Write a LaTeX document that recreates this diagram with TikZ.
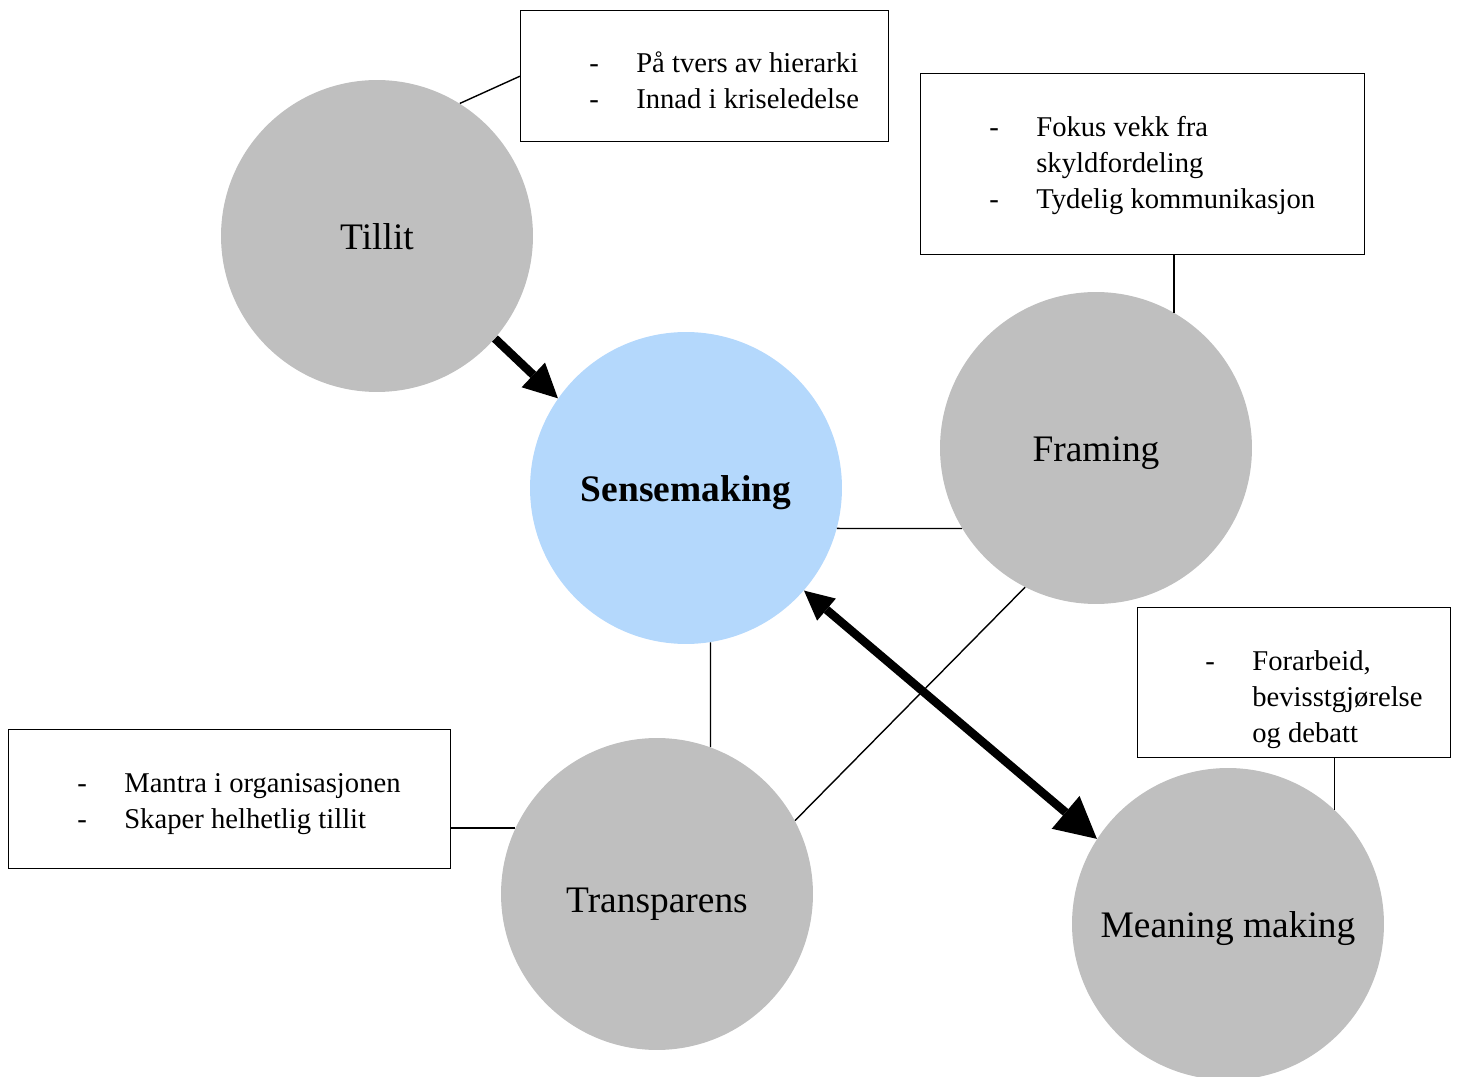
\documentclass[tikz,border=0pt]{standalone}
\usepackage{fontspec}
\setmainfont{Liberation Serif}
\usetikzlibrary{arrows.meta}

\definecolor{conceptgray}{RGB}{191,191,191}
\definecolor{senseblue}{RGB}{180,216,252}

\begin{document}
\begin{tikzpicture}[x=0.02cm, y=-0.02cm,
  concept/.style={circle, fill=conceptgray, minimum size=6.24cm, inner sep=0pt,
    text height=20.4pt, text depth=5pt, font=\fontsize{21.3}{25}\selectfont},
  notebox/.style={draw, line width=0.8pt, anchor=north west, inner sep=0pt},
  notetext/.style={anchor=west, inner sep=0pt, font=\fontsize{16.3}{20.5}\selectfont},
  link/.style={line width=0.8pt},
  bigarrow/.style={line width=0.17cm}
]

% Page frame
\clip (0,0) rectangle (1458,1077);

% Draw the concept circles
\node[concept] (till) at (377,236) {Tillit};
\node[concept, fill=senseblue, font=\fontsize{21.3}{25}\selectfont\bfseries] (sense) at (686,488) {Sensemaking};
\node[concept] (fram) at (1096,448) {Framing};
\node[concept, text height=26pt] (tran) at (657,894) {Transparens};
\node[concept] (mean) at (1228,924) {Meaning making};

% Draw the note boxes
\node[notebox, minimum width=7.36cm, minimum height=2.62cm] (note1) at (520,10) {};
\node[notebox, minimum width=8.88cm, minimum height=3.62cm] (note2) at (920,73) {};
\node[notebox, minimum width=6.26cm, minimum height=3.00cm] (note3) at (1137,607) {};
\node[notebox, minimum width=8.84cm, minimum height=2.78cm] (note4) at (8,729) {};

% Add the notes
\node[notetext] (text1) at (589,83) {\begin{tabular}{@{}p{0.94cm}@{}l@{}}
  - & På tvers av hierarki\\
  - & Innad i kriseledelse
\end{tabular}};
\node[notetext] (text2) at (989,165) {\begin{tabular}{@{}p{0.94cm}@{}l@{}}
  - & Fokus vekk fra\\
    & skyldfordeling\\
  - & Tydelig kommunikasjon
\end{tabular}};
\node[notetext] (text3) at (1205,699) {\begin{tabular}{@{}p{0.94cm}@{}l@{}}
  - & Forarbeid,\\
    & bevisstgjørelse\\
    & og debatt
\end{tabular}};
\node[notetext] (text4) at (77,803.5) {\begin{tabular}{@{}p{0.94cm}@{}l@{}}
  - & Mantra i organisasjonen\\
  - & Skaper helhetlig tillit
\end{tabular}};

% Draw the thin links
\draw[link] (till.58) -- (note1.west);
\draw[link] (fram.60.4) -- (fram.60.4 |- note2.south);
\draw[link] (mean.47.7) -- (mean.47.7 |- note3.south);
\draw[link] (tran.155.4) -- (tran.155.4 -| note4.east);
\draw[link] (sense.-15.6) -- (fram.211.7);
\draw[link] (sense.-81.5) -- (tran.70.5);
\draw[link] (fram.243.4) -- (tran.28.2);

% Draw the thick arrows
\draw[bigarrow, -{Triangle[length=0.68cm, width=0.68cm, line width=0pt]}] (till.-41) -- (sense.145);
\draw[bigarrow, {Triangle[length=0.59cm, width=0.58cm, line width=0pt]}-{Triangle[length=0.82cm, width=0.86cm, line width=0pt]}] (sense.-41.8) -- (mean.147);

\end{tikzpicture}
\end{document}
